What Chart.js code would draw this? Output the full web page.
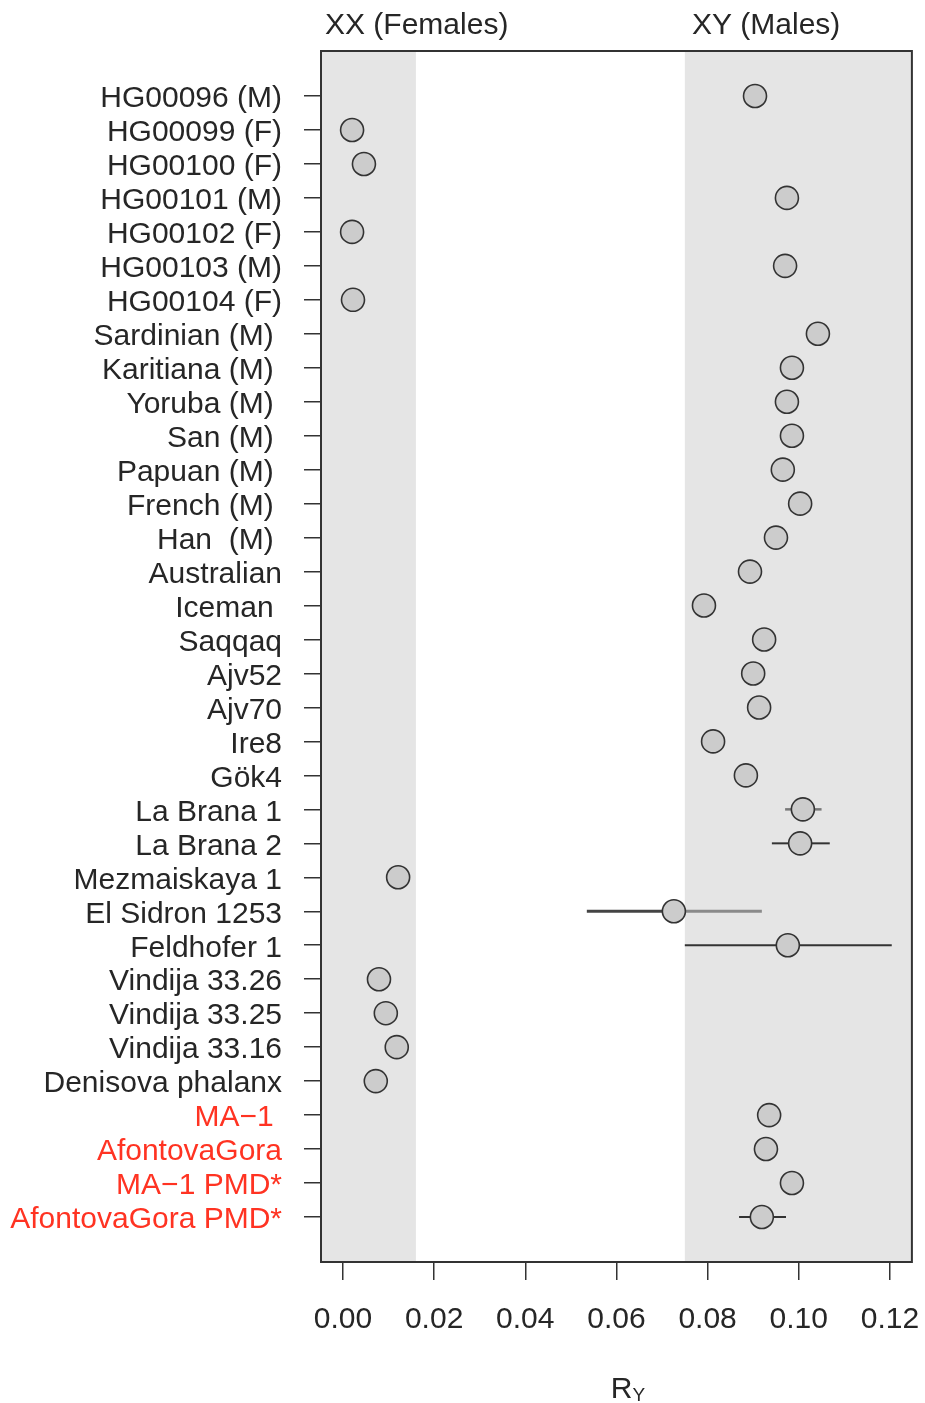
<!DOCTYPE html>
<html>
<head>
<meta charset="utf-8">
<script src="https://cdn.jsdelivr.net/npm/chart.js@4.4.1/dist/chart.umd.min.js"></script>
<style>
  html, body { margin: 0; padding: 0; background: #fff; }
  #wrap { width: 925px; height: 1403px; }
</style>
</head>
<body>
<div id="wrap"><canvas id="chart"></canvas></div>
<script>
// samples, top to bottom
const samples = [
  "HG00096 (M)", "HG00099 (F)", "HG00100 (F)", "HG00101 (M)", "HG00102 (F)",
  "HG00103 (M)", "HG00104 (F)", "Sardinian (M) ", "Karitiana (M) ", "Yoruba (M) ",
  "San (M) ", "Papuan (M) ", "French (M) ", "Han  (M) ", "Australian",
  "Iceman ", "Saqqaq", "Ajv52", "Ajv70", "Ire8", "Gök4", "La Brana 1",
  "La Brana 2", "Mezmaiskaya 1", "El Sidron 1253", "Feldhofer 1",
  "Vindija 33.26", "Vindija 33.25", "Vindija 33.16", "Denisova phalanx",
  "MA\u22121 ", "AfontovaGora", "MA\u22121 PMD*", "AfontovaGora PMD*"
];
const redSamples = ["MA\u22121 ", "AfontovaGora", "MA\u22121 PMD*", "AfontovaGora PMD*"];

const ryValues = [
  0.0904, 0.0020, 0.0046, 0.0974, 0.0020,
  0.0970, 0.0022, 0.1042, 0.0985, 0.0974,
  0.0985, 0.0965, 0.1003, 0.0950, 0.0893,
  0.0792, 0.0924, 0.0900, 0.0913, 0.0812, 0.0884, 0.1009,
  0.1003, 0.0121, 0.0726, 0.0976,
  0.0079, 0.0094, 0.0118, 0.0072,
  0.0935, 0.0928, 0.0985, 0.0919
];

// confidence intervals (null = none drawn)
const ciLow = samples.map(() => null);
const ciHigh = samples.map(() => null);
ciLow[21] = 0.0970; ciHigh[21] = 0.1050;   // La Brana 1
ciLow[22] = 0.0941; ciHigh[22] = 0.1068;   // La Brana 2
ciLow[24] = 0.0535; ciHigh[24] = 0.0919;   // El Sidron 1253
ciLow[25] = 0.0750; ciHigh[25] = 0.1204;   // Feldhofer 1
ciLow[33] = 0.0869; ciHigh[33] = 0.0972;   // AfontovaGora PMD*

// sex assignment regions
const xxBand = [null, 0.016];
const xyBand = [0.075, null];

const xTicks = [0, 0.02, 0.04, 0.06, 0.08, 0.10, 0.12];

const ink = "#262626";
const font = "'Liberation Sans', Arial, sans-serif";

const backdrop = {
  id: "backdrop",
  beforeDatasetsDraw(chart) {
    const { ctx, chartArea: a, scales: { x, y } } = chart;
    ctx.save();
    ctx.fillStyle = "#e5e5e5";
    ctx.fillRect(a.left, a.top, x.getPixelForValue(xxBand[1]) - a.left, a.bottom - a.top);
    const bx = x.getPixelForValue(xyBand[0]);
    ctx.fillRect(bx, a.top, a.right - bx, a.bottom - a.top);

    // error bars
    ciLow.forEach((lo, i) => {
      if (lo === null) return;
      const py = y.getPixelForValue(i);
      const pm = x.getPixelForValue(ryValues[i]);
      const pl = x.getPixelForValue(lo);
      const ph = x.getPixelForValue(ciHigh[i]);
      let lc = "#333", rc = "#333", lw = 2;
      if (i === 21) { lc = "#777"; rc = "#777"; lw = 2.5; }
      if (i === 24) { lc = "#444"; rc = "#8a8a8a"; lw = 3; }
      ctx.lineWidth = lw;
      ctx.strokeStyle = lc;
      ctx.beginPath(); ctx.moveTo(pl, py); ctx.lineTo(pm, py); ctx.stroke();
      ctx.strokeStyle = rc;
      ctx.beginPath(); ctx.moveTo(pm, py); ctx.lineTo(ph, py); ctx.stroke();
    });
    ctx.restore();
  },
  afterDraw(chart) {
    const { ctx, chartArea: a, scales: { x } } = chart;
    ctx.save();
    ctx.strokeStyle = "#333";
    ctx.lineWidth = 2;
    ctx.strokeRect(a.left, a.top, a.right - a.left, a.bottom - a.top);

    ctx.fillStyle = ink;
    ctx.font = "30px " + font;
    ctx.textBaseline = "middle";
    ctx.textAlign = "left";
    ctx.fillText("XX (Females)", 325, 26);
    ctx.fillText("XY (Males)", 692, 26);

    // axis title R with subscript Y
    ctx.textBaseline = "alphabetic";
    ctx.font = "30px " + font;
    const cx = x.getPixelForValue(0.06) + 16;
    ctx.textAlign = "right";
    ctx.fillText("R", cx, 1398);
    ctx.textAlign = "left";
    ctx.font = "19px " + font;
    ctx.fillText("Y", cx, 1401);
    ctx.restore();
  }
};

new Chart(document.getElementById("chart"), {
  type: "scatter",
  data: {
    datasets: [{
      data: ryValues.map((v, i) => ({ x: v, y: i })),
      pointRadius: 11.5,
      pointHoverRadius: 11.5,
      borderWidth: 1.6,
      borderColor: "#333",
      backgroundColor: "#cccccc"
    }]
  },
  options: {
    responsive: true,
    maintainAspectRatio: false,
    animation: false,
    events: [],
    layout: { padding: { top: 51, right: 12, left: 0, bottom: 0 } },
    plugins: { legend: { display: false }, tooltip: { enabled: false } },
    scales: {
      x: {
        type: "linear",
        min: -0.00482,
        max: 0.12482,
        afterBuildTicks: (s) => { s.ticks = xTicks.map(v => ({ value: v })); },
        afterFit: (s) => { s.height = 141; s.paddingLeft = 0; s.paddingRight = 0; },
        border: { display: false },
        grid: { drawOnChartArea: false, drawTicks: true, tickLength: 18, color: "#333", lineWidth: 1.5 },
        ticks: {
          color: ink,
          font: { family: font, size: 30 },
          padding: 22,
          maxRotation: 0,
          callback: (v) => v.toFixed(2)
        }
      },
      y: {
        type: "linear",
        reverse: true,
        min: -1.325,
        max: 34.325,
        afterBuildTicks: (s) => { s.ticks = samples.map((_, i) => ({ value: i })); },
        afterFit: (s) => { s.width = 321; s.paddingTop = 0; s.paddingBottom = 0; },
        border: { display: false },
        grid: { drawOnChartArea: false, drawTicks: true, tickLength: 17, color: "#333", lineWidth: 1.5 },
        ticks: {
          autoSkip: false,
          padding: 22,
          labelOffset: 3,
          font: { family: font, size: 30 },
          color: (c) => redSamples.includes(samples[c.index]) ? "#ff3322" : ink,
          callback: (v, i) => samples[i]
        }
      }
    }
  },
  plugins: [backdrop]
});
</script>
</body>
</html>
